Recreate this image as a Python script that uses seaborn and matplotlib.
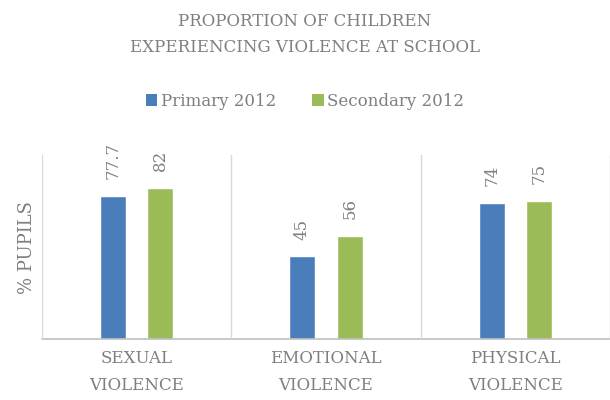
import matplotlib
matplotlib.use("Agg")
import matplotlib.pyplot as plt
import seaborn as sns
import pandas as pd
from matplotlib.patches import Patch

categories = ["SEXUAL\nVIOLENCE", "EMOTIONAL\nVIOLENCE", "PHYSICAL\nVIOLENCE"]
series_names = ["Primary 2012", "Secondary 2012"]
primary = [77.7, 45, 74]
secondary = [82, 56, 75]
value_labels_primary = ["77.7", "45", "74"]
value_labels_secondary = ["82", "56", "75"]

colors = ["#4A7EBB", "#9BBB59"]
text_gray = "#7F7F7F"
grid_gray = "#D9D9D9"

df = pd.DataFrame({
    "category": categories * 2,
    "series": [series_names[0]] * 3 + [series_names[1]] * 3,
    "value": primary + secondary,
})

sns.set_theme(style="white")
plt.rcParams["font.family"] = ["DejaVu Serif", "DejaVu Sans"]

fig = plt.figure(figsize=(6.1, 4.0), dpi=100)
ax = fig.add_axes([42 / 610, (400 - 339) / 400, 568 / 610, (339 - 155) / 400])

sns.barplot(data=df, x="category", y="value", hue="series", order=categories,
            hue_order=series_names, palette=colors, width=0.5, gap=0.45,
            saturation=1, legend=False, ax=ax)

ax.set_xlim(-0.5, 2.5)
ax.set_ylim(0, 100)
ax.set_yticks([])
ax.set_xlabel("")
ax.set_ylabel("% PUPILS", color=text_gray, fontsize=13, labelpad=4)
for s in ax.spines.values():
    s.set_visible(False)
ax.axhline(0, color="#BFBFBF", lw=1.2, clip_on=False)
for xb in [-0.5, 0.5, 1.5, 2.5]:
    ax.axvline(xb, color=grid_gray, lw=1.0)

ax.tick_params(axis="x", length=0, pad=8, colors=text_gray)
ax.set_xticks(range(3))
ax.set_xticklabels(categories, color=text_gray, fontsize=12, linespacing=1.75)

for cont, labs in zip(ax.containers, [value_labels_primary, value_labels_secondary]):
    ax.bar_label(cont, labels=labs, rotation=90, padding=12, color=text_gray, fontsize=12)

fig.text(0.5, 1 - 22 / 400, "PROPORTION OF CHILDREN", ha="center", va="center",
         color=text_gray, fontsize=12)
fig.text(0.5, 1 - 48 / 400, "EXPERIENCING VIOLENCE AT SCHOOL", ha="center", va="center",
         color=text_gray, fontsize=12)

handles = [Patch(facecolor=c, edgecolor="none") for c in colors]
fig.legend(handles, series_names, loc="center", bbox_to_anchor=(0.5, 1 - 101 / 400),
           ncol=2, frameon=False, fontsize=12, labelcolor=text_gray,
           handlelength=0.7, handleheight=0.7, handletextpad=0.2, columnspacing=2.2)

fig.savefig("out.png", dpi=100)
